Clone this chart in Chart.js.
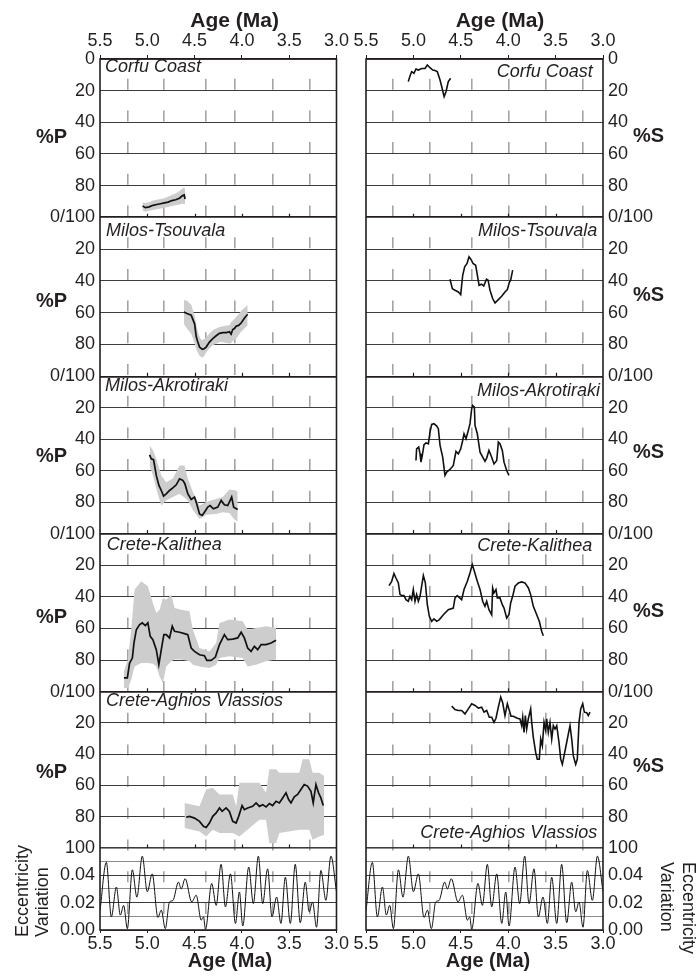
<!DOCTYPE html>
<html>
<head>
<meta charset="utf-8">
<title>Pollen and spore percentages, Pliocene sections</title>
<script src="https://cdn.jsdelivr.net/npm/chart.js@4.4.1/dist/chart.umd.min.js"></script>
<style>
  html, body { margin: 0; padding: 0; background: #fff; overflow: hidden; width: 696px; height: 978px; }
  body { position: relative; font-family: "Liberation Sans", Arial, Helvetica, sans-serif; color: #231f20; }
  canvas { position: absolute; top: 0; }
  .t { position: absolute; white-space: nowrap; line-height: 1; }
</style>
</head>
<body>
<canvas id="colP" width="352" height="978" style="left:0"></canvas>
<canvas id="colS" width="346" height="978" style="left:350px"></canvas>
<script>
// ---------- shared axis values ----------
const ageTicks = [5.5, 5.0, 4.5, 4.0, 3.5, 3.0];
const percentTicks = [0, 20, 40, 60, 80, 100];
const eccTicks = [0, 0.01, 0.02, 0.03, 0.04, 0.05, 0.06];
// eccentricity minima marked by dashed lines
const markerAgesP = [5.21, 4.825, 4.385, 4.07, 3.675, 3.28];
const markerAgesS = [5.22, 4.825, 4.38, 3.99, 3.60, 3.21];

const sites = ['Corfu Coast', 'Milos-Tsouvala', 'Milos-Akrotiraki', 'Crete-Kalithea', 'Crete-Aghios Vlassios'];

// ---------- Corfu Coast ----------
const corfuAgeP = [5.05, 5.02, 4.98, 4.94, 4.90, 4.86, 4.82, 4.78, 4.74, 4.70, 4.66, 4.63, 4.61, 4.60];
const corfuP    = [93, 94, 93.5, 92.5, 92, 91.5, 91, 90.5, 89.5, 89, 88, 86.5, 86, 88.5];
const corfuPLo  = [90.5, 91, 90.5, 89.5, 89, 88.5, 88, 87, 86, 85, 83.5, 82, 81, 82.5];
const corfuPHi  = [96, 96.5, 96, 95.5, 95, 94.5, 94, 93.5, 93, 92.5, 92, 91.5, 91.5, 92.5];
const corfuAgeS = [5.054, 5.036, 5.018, 4.994, 4.973, 4.948, 4.913, 4.878, 4.853, 4.825, 4.796, 4.772, 4.748, 4.719, 4.701, 4.676, 4.656, 4.632, 4.607];
const corfuS    = [14.3, 10.7, 8, 9, 6.3, 7, 6, 6, 3.8, 5.5, 7, 7.3, 8, 13.3, 17.5, 23.8, 20.7, 14.3, 12.2];

// ---------- Milos-Tsouvala ----------
const tsouAgeP = [4.614, 4.58, 4.536, 4.50, 4.483, 4.466, 4.448, 4.430, 4.413, 4.396, 4.378, 4.343, 4.308, 4.272, 4.237, 4.20, 4.164, 4.131, 4.114, 4.097, 4.079, 4.061, 4.035, 4.008, 3.974, 3.939];
const tsouP    = [59.5, 60.5, 61.6, 67, 75, 78.4, 81.6, 82.5, 83, 82.5, 81.6, 78.5, 76.3, 74.5, 73, 72.5, 72.5, 72, 73.5, 70.6, 70, 68.5, 68, 66.5, 63.5, 61];
const tsouPLo  = [52, 52.5, 55, 62, 67, 72, 75, 77, 77, 76.5, 75.3, 73, 71, 70, 69, 68.5, 68, 67.9, 66, 65, 64, 62.7, 61, 59, 57, 55];
const tsouPHi  = [67, 70, 73.2, 79, 82.6, 85, 87, 88, 88, 87, 85, 82.5, 80.5, 79.5, 78.4, 78.5, 79, 79.4, 79, 78, 77, 76.3, 74, 72, 70, 68];
const tsouAgeS = [4.614, 4.589, 4.561, 4.526, 4.501, 4.491, 4.480, 4.459, 4.434, 4.413, 4.388, 4.371, 4.343, 4.325, 4.307, 4.282, 4.258, 4.229, 4.212, 4.192, 4.164, 4.139, 4.104, 4.069, 4.034, 4.009, 3.988, 3.974, 3.953];
const tsouS    = [39, 44.9, 45.9, 47, 48.6, 42.8, 36.5, 31.2, 29.1, 24.9, 27, 29.1, 30.2, 36.5, 42.8, 42.1, 43.2, 39, 39.6, 45.9, 51.1, 53.9, 51.8, 49.7, 47, 45.5, 40.9, 39.6, 33.3];

// ---------- Milos-Akrotiraki ----------
const akroAgeP = [4.976, 4.958, 4.934, 4.923, 4.905, 4.877, 4.852, 4.828, 4.800, 4.765, 4.730, 4.694, 4.659, 4.624, 4.603, 4.572, 4.536, 4.501, 4.483, 4.448, 4.420, 4.396, 4.361, 4.336, 4.301, 4.255, 4.219, 4.185, 4.150, 4.108, 4.087, 4.044];
const akroP    = [49.9, 52.4, 53, 56.7, 63, 69.4, 72.6, 76.2, 74.7, 72.6, 71, 69, 65.2, 66.2, 68.3, 74.7, 78.3, 76.8, 80, 87.5, 88.5, 86.4, 83.2, 82.2, 84.3, 83.2, 78.9, 81.7, 82.2, 76.8, 83.2, 84.7];
const akroBandAge = [4.976, 4.94, 4.905, 4.852, 4.80, 4.73, 4.659, 4.607, 4.572, 4.518, 4.448, 4.378, 4.272, 4.202, 4.132, 4.08, 4.044];
const akroPLo  = [44, 47, 52.4, 63, 67.3, 65, 56.7, 56.7, 65, 73.5, 82.2, 80, 78, 76.8, 72, 72.5, 73.3];
const akroPHi  = [56.7, 63, 71.5, 82.2, 79, 76.8, 74.7, 77, 79, 85, 90.7, 88, 87.5, 86.5, 87, 91, 92.4];
const akroAgeS = [4.973, 4.966, 4.944, 4.930, 4.920, 4.906, 4.888, 4.867, 4.842, 4.825, 4.807, 4.783, 4.754, 4.737, 4.719, 4.691, 4.667, 4.649, 4.614, 4.579, 4.551, 4.526, 4.501, 4.480, 4.466, 4.445, 4.421, 4.403, 4.385, 4.375, 4.357, 4.350, 4.326, 4.297, 4.269, 4.245, 4.227, 4.203, 4.174, 4.150, 4.121, 4.104, 4.087, 4.062, 4.044, 4.016, 3.992];
const akroS    = [53.5, 46.1, 45, 49.3, 54.6, 50.3, 43.5, 42.3, 42.9, 35.5, 30.6, 30.1, 31.6, 33.3, 43.9, 51.4, 63, 60.9, 59.2, 56.7, 47.8, 49.3, 46.1, 40.8, 36.5, 39.7, 34.4, 30.1, 20.6, 18.5, 19.5, 31.2, 36.5, 48.2, 51.4, 54.1, 52, 47.1, 51.4, 55.7, 53.5, 41.8, 42.9, 47.1, 54.6, 59.9, 63];

// ---------- Crete-Kalithea ----------
const kaliAgeP = [5.247, 5.211, 5.187, 5.158, 5.141, 5.116, 5.081, 5.053, 5.021, 4.994, 4.969, 4.941, 4.905, 4.878, 4.852, 4.825, 4.800, 4.765, 4.736, 4.712, 4.659, 4.607, 4.572, 4.536, 4.501, 4.448, 4.396, 4.371, 4.325, 4.280, 4.237, 4.185, 4.150, 4.097, 4.044, 4.008, 3.974, 3.939, 3.903, 3.868, 3.833, 3.797, 3.745, 3.692, 3.639];
const kaliP    = [91.3, 91.3, 81.9, 78.7, 69.2, 60.8, 57.6, 56.5, 58.2, 56.5, 65, 67.1, 73.4, 82.9, 73.4, 63.9, 63.9, 66, 58.6, 61.8, 62.4, 63.3, 63.9, 72.4, 74.5, 76.6, 77.2, 80.2, 80.2, 78.1, 70.2, 63.9, 67.1, 66.7, 66, 62.4, 66, 72.4, 74.5, 71.3, 73.4, 70.2, 70.2, 69.2, 67.5];
const kaliBandAge = [5.247, 5.205, 5.17, 5.134, 5.064, 4.994, 4.941, 4.905, 4.870, 4.835, 4.80, 4.747, 4.712, 4.642, 4.554, 4.518, 4.448, 4.343, 4.272, 4.237, 4.132, 3.991, 3.939, 3.851, 3.745, 3.639];
const kaliPLo  = [87.1, 79.7, 60.8, 35.4, 30.2, 33.3, 43.9, 50.2, 48.1, 40.7, 41.8, 38.6, 47, 48.1, 49.2, 60.8, 72.4, 74.5, 69.2, 56.5, 54.4, 55.5, 60.8, 59.7, 58.6, 59.7];
const kaliPHi  = [97.7, 97.7, 92.4, 84, 81.9, 81.9, 82.3, 84, 90.3, 94.5, 84, 80.8, 79.7, 79.7, 80.8, 82.9, 84, 85, 82.9, 78.7, 77.6, 78.7, 84, 82.9, 80.8, 79.7];
const kaliAgeS = [5.257, 5.229, 5.205, 5.184, 5.159, 5.141, 5.124, 5.099, 5.078, 5.054, 5.036, 5.018, 5.001, 4.983, 4.966, 4.948, 4.930, 4.913, 4.895, 4.874, 4.853, 4.832, 4.807, 4.783, 4.754, 4.726, 4.684, 4.632, 4.579, 4.561, 4.537, 4.491, 4.466, 4.431, 4.403, 4.379, 4.357, 4.326, 4.297, 4.269, 4.245, 4.227, 4.203, 4.174, 4.164, 4.150, 4.129, 4.115, 4.087, 4.062, 4.044, 4.016, 3.992, 3.974, 3.953, 3.928, 3.893, 3.858, 3.823, 3.787, 3.763, 3.735, 3.699, 3.672, 3.647, 3.630];
const kaliS    = [32.9, 30.2, 25.3, 28.1, 31.2, 38.6, 39.2, 39.2, 41.8, 42.8, 39.7, 41.8, 35.4, 42.8, 38.6, 42.8, 39.7, 33.3, 26.6, 31.2, 45, 52.3, 55.5, 54, 55.5, 54.4, 51.3, 48.1, 47.1, 40.7, 39.2, 41.8, 35.4, 30.2, 24.9, 19.6, 23.8, 30.2, 35.4, 42.8, 46, 42.8, 48.1, 51.3, 34.4, 37.5, 35.4, 40.7, 40.7, 45, 47.1, 53.4, 51.3, 43.9, 39.7, 33.3, 31.2, 30.6, 31.2, 34.4, 38.6, 46, 51.3, 55.5, 61.8, 64.6];

// ---------- Crete-Aghios Vlassios ----------
const vlasAgeP = [4.589, 4.554, 4.501, 4.448, 4.406, 4.378, 4.343, 4.308, 4.272, 4.237, 4.209, 4.167, 4.132, 4.097, 4.061, 4.034, 3.998, 3.974, 3.939, 3.886, 3.850, 3.815, 3.780, 3.745, 3.710, 3.675, 3.639, 3.604, 3.569, 3.534, 3.506, 3.481, 3.446, 3.411, 3.376, 3.341, 3.306, 3.270, 3.246, 3.217, 3.190, 3.165, 3.140];
const vlasP    = [80.4, 79.8, 80.9, 83, 86.2, 86.9, 84.1, 79.8, 77.6, 74.4, 76.6, 74.4, 76.6, 83, 84.1, 79.8, 72.9, 75.5, 74.4, 73.4, 71.2, 73.4, 72.3, 73.8, 71.6, 72.9, 70.1, 71.2, 68, 64.7, 69, 71.2, 67.3, 65.8, 62.6, 59.4, 60.4, 63.7, 71.2, 59.4, 64.7, 68, 72.9];
const vlasBandAge = [4.607, 4.448, 4.378, 4.308, 4.237, 4.097, 4.061, 4.026, 3.815, 3.745, 3.710, 3.639, 3.604, 3.393, 3.358, 3.288, 3.253, 3.182, 3.13];
const vlasPLo  = [71.2, 73.4, 62.6, 61.5, 65.8, 65.8, 73.4, 58.3, 58.3, 64.7, 49.7, 49.7, 51.8, 51.8, 43.2, 43.2, 51.8, 51.8, 54];
const vlasPHi  = [87.3, 89.5, 92.7, 88.4, 90.5, 90.5, 91.6, 92.7, 81.9, 81.9, 97, 97, 90.5, 88.4, 88.4, 88.4, 94.8, 92.7, 91.6];
const vlasAgeS = [4.596, 4.561, 4.526, 4.491, 4.456, 4.421, 4.385, 4.350, 4.315, 4.280, 4.255, 4.227, 4.199, 4.174, 4.150, 4.129, 4.104, 4.079, 4.058, 4.034, 4.009, 3.988, 3.970, 3.946, 3.904, 3.876, 3.858, 3.847, 3.833, 3.819, 3.805, 3.788, 3.763, 3.752, 3.735, 3.710, 3.693, 3.672, 3.657, 3.640, 3.622, 3.604, 3.594, 3.577, 3.559, 3.541, 3.524, 3.506, 3.488, 3.464, 3.446, 3.429, 3.411, 3.390, 3.366, 3.348, 3.330, 3.313, 3.288, 3.271, 3.253, 3.235, 3.214, 3.197, 3.172, 3.155, 3.137];
const vlasS    = [9.2, 11.4, 12, 12, 14.2, 11, 7.7, 8.8, 10.5, 9.9, 13.1, 12, 16.3, 16.3, 19.6, 17, 9.9, 3.4, 7.1, 15.3, 7.7, 12, 15.7, 15.7, 17, 17.4, 21.7, 16.3, 26, 15.3, 23.9, 17.4, 11, 19.6, 29.2, 38.9, 43.2, 43.2, 30.3, 34.6, 19.6, 24.9, 17.4, 26, 19.6, 30.3, 21.7, 23.9, 21.7, 32.5, 43.2, 46.5, 41.1, 34.6, 27.1, 21.7, 30.3, 41.1, 46.5, 43.2, 19.6, 11, 7.7, 13.1, 13.5, 15.3, 13.1];

// ---------- orbital eccentricity ----------
const eccAge = [5.500, 5.433, 5.380, 5.327, 5.285, 5.250, 5.211, 5.158, 5.110, 5.053, 5.000, 4.948, 4.888, 4.852, 4.810, 4.765, 4.730, 4.670, 4.642, 4.600, 4.530, 4.483, 4.430, 4.406, 4.385, 4.319, 4.272, 4.220, 4.174, 4.121, 4.068, 4.026, 3.991, 3.928, 3.879, 3.826, 3.780, 3.728, 3.682, 3.633, 3.587, 3.541, 3.488, 3.436, 3.383, 3.330, 3.288, 3.253, 3.211, 3.165, 3.112, 3.059, 3.000];
const eccVal = [0.014, 0.0495, 0.0096, 0.0314, 0.0109, 0.018, 0.001, 0.044, 0.024, 0.054, 0.028, 0.041, 0.0092, 0.0145, 0.001, 0.0205, 0.0215, 0.035, 0.030, 0.0375, 0.0205, 0.0254, 0.0072, 0.0096, 0.0005, 0.034, 0.018, 0.048, 0.0169, 0.041, 0.0048, 0.0278, 0.0029, 0.046, 0.0193, 0.054, 0.0193, 0.0447, 0.0096, 0.0241, 0.0048, 0.0386, 0.0048, 0.048, 0.0053, 0.035, 0.0133, 0.0205, 0.002, 0.0435, 0.0217, 0.054, 0.028];

// ---------- drawing ----------
const FONT = '"Liberation Sans", Arial, Helvetica, sans-serif';
const INK = '#231f20';
const BAND = '#cdcdcd';
Chart.defaults.font.family = FONT;
Chart.defaults.color = INK;

const pts = (xs, ys) => xs.map((x, i) => ({ x, y: ys[i] }));

const pollen = [
  { age: corfuAgeP, val: corfuP, bandAge: corfuAgeP, lo: corfuPLo, hi: corfuPHi },
  { age: tsouAgeP, val: tsouP, bandAge: tsouAgeP, lo: tsouPLo, hi: tsouPHi },
  { age: akroAgeP, val: akroP, bandAge: akroBandAge, lo: akroPLo, hi: akroPHi },
  { age: kaliAgeP, val: kaliP, bandAge: kaliBandAge, lo: kaliPLo, hi: kaliPHi },
  { age: vlasAgeP, val: vlasP, bandAge: vlasBandAge, lo: vlasPLo, hi: vlasPHi }
];
const spores = [
  { age: corfuAgeS, val: corfuS },
  { age: tsouAgeS, val: tsouS },
  { age: akroAgeS, val: akroS },
  { age: kaliAgeS, val: kaliS },
  { age: vlasAgeS, val: vlasS }
];

// relative heights of the stacked panels (five sites + eccentricity)
const panelWeights = [158, 159, 157, 158, 156, 82];

function ageAxis(position, height, tickLen, pad) {
  return {
    type: 'linear', position, min: 3.0, max: 5.5, reverse: true, weight: 1,
    afterBuildTicks: s => { s.ticks = ageTicks.map(v => ({ value: v })); },
    afterFit: s => { s.height = height; },
    ticks: { autoSkip: false, maxRotation: 0, padding: pad, color: INK, font: { size: 18 },
             callback: v => Number(v).toFixed(1) },
    grid: { drawOnChartArea: false, drawTicks: true, tickLength: tickLen, color: INK, lineWidth: 1 },
    border: { display: false }
  };
}

function markerAxis(ages) {
  return {
    type: 'linear', position: 'bottom', min: 3.0, max: 5.5, reverse: true, weight: 0,
    afterBuildTicks: s => { s.ticks = ages.map(v => ({ value: v })); },
    afterFit: s => { s.height = 0; },
    ticks: { display: false },
    grid: { drawTicks: false, color: '#a3a3a3', lineWidth: 1.6 },
    border: { display: false, dash: [11, 20.7], dashOffset: 12 }
  };
}

function percentAxis(k, side, axisWidth) {
  const last = k === 4;
  return {
    axis: 'y', type: 'linear', position: side, stack: 'panels', stackWeight: panelWeights[k],
    weight: side === 'left' ? 10 - k : k + 1,
    min: 0, max: 100, reverse: true,
    afterBuildTicks: s => { s.ticks = percentTicks.map(v => ({ value: v })); },
    afterFit: s => { s.width = axisWidth; },
    ticks: {
      autoSkip: false, padding: 5, color: INK, font: { size: 18 },
      callback: v => v === 0 ? (k === 0 ? '0' : '0/100') : (v === 100 ? (last ? '100' : '') : String(v))
    },
    grid: {
      drawTicks: false,
      color: c => (c.tick.value === 0 || c.tick.value === 100) ? INK : '#3c3c3c',
      lineWidth: c => (c.tick.value === 0 || c.tick.value === 100) ? 1.6 : 1
    },
    border: { display: false }
  };
}

function eccAxis(side, axisWidth) {
  return {
    axis: 'y', type: 'linear', position: side, stack: 'panels', stackWeight: panelWeights[5],
    weight: side === 'left' ? 4 : 6,
    min: 0, max: 0.06,
    afterBuildTicks: s => { s.ticks = eccTicks.map(v => ({ value: v })); },
    afterFit: s => { s.width = axisWidth; },
    ticks: {
      autoSkip: false, padding: 5, color: INK, font: { size: 18 },
      callback: (v, i) => (i % 2 === 0 && i < 6) ? Number(v).toFixed(2) : ''
    },
    grid: {
      drawTicks: false,
      color: c => c.index % 2 ? '#8c8c8c' : '#3c3c3c',
      lineWidth: 1
    },
    border: { display: false }
  };
}

// outer frame plus short age ticks on the floor of every site panel
const framePlugin = {
  id: 'frame',
  afterDatasetsDraw(chart) {
    const { ctx, chartArea: a, scales } = chart;
    ctx.save();
    ctx.strokeStyle = INK;
    ctx.lineWidth = 1.6;
    ctx.strokeRect(a.left, a.top, a.right - a.left, a.bottom - a.top);
    ctx.lineWidth = 1.2;
    ctx.beginPath();
    for (let k = 1; k <= 5; k++) {
      const yb = scales['y' + k].bottom;
      ageTicks.slice(1, -1).forEach(v => {
        const px = Math.round(scales.x.getPixelForValue(v)) + 0.5;
        ctx.moveTo(px, yb);
        ctx.lineTo(px, yb - 3.5);
      });
    }
    ctx.stroke();
    ctx.restore();
  }
};

function buildColumn(canvasId, side, axisWidth, padding, markers, withBands) {
  const scales = {
    x: ageAxis('bottom', 48, 3, 0),
    xt: ageAxis('top', 59, 4, 3),
    xm: markerAxis(markers)
  };
  const datasets = [];
  for (let k = 0; k < 5; k++) {
    const id = 'y' + (k + 1);
    scales[id] = percentAxis(k, side, axisWidth);
    if (withBands) {
      const p = pollen[k];
      // grey range band (lower and upper bound, filled between)
      datasets.push({ data: pts(p.bandAge, p.lo), yAxisID: id, xAxisID: 'x', borderWidth: 0,
                      pointRadius: 0, fill: false, backgroundColor: BAND, order: 2 });
      datasets.push({ data: pts(p.bandAge, p.hi), yAxisID: id, xAxisID: 'x', borderWidth: 0,
                      pointRadius: 0, fill: '-1', backgroundColor: BAND, order: 2 });
      datasets.push({ data: pts(p.age, p.val), yAxisID: id, xAxisID: 'x', borderColor: '#111',
                      borderWidth: 1.7, pointRadius: 0, fill: false, order: 0 });
    } else {
      const s = spores[k];
      datasets.push({ data: pts(s.age, s.val), yAxisID: id, xAxisID: 'x', borderColor: '#111',
                      borderWidth: 1.6, pointRadius: 0, fill: false, order: 0 });
    }
  }
  scales.ye = eccAxis(side, axisWidth);
  datasets.push({ data: pts(eccAge, eccVal), yAxisID: 'ye', xAxisID: 'x', borderColor: '#111',
                  borderWidth: 1, pointRadius: 0, fill: false, cubicInterpolationMode: 'monotone', order: 0 });

  return new Chart(document.getElementById(canvasId), {
    type: 'line',
    data: { datasets },
    options: {
      responsive: false, animation: false, events: [],
      layout: { padding },
      plugins: { legend: { display: false }, tooltip: { enabled: false },
                 filler: { drawTime: 'beforeDatasetsDraw' } },
      scales
    },
    plugins: [framePlugin]
  });
}

buildColumn('colP', 'left', 100, { left: 0, right: 15, top: 0, bottom: 0 }, markerAgesP, true);
buildColumn('colS', 'right', 93, { left: 16, right: 0, top: 0, bottom: 0 }, markerAgesS, false);

// ---------- text ----------
function label(text, x, baseline, size, opts = {}) {
  const d = document.createElement('div');
  d.className = 't';
  d.textContent = text;
  d.style.fontSize = size + 'px';
  d.style.lineHeight = size + 'px';
  if (opts.bold) d.style.fontWeight = 'bold';
  if (opts.italic) d.style.fontStyle = 'italic';
  d.style.top = (baseline - 0.8465 * size) + 'px';
  d.style.left = x + 'px';
  if (opts.align === 'center') d.style.transform = 'translateX(-50%)';
  if (opts.align === 'right') d.style.transform = 'translateX(-100%)';
  document.body.appendChild(d);
}

label('Age (Ma)', 234.7, 26.7, 21, { bold: true, align: 'center' });
label('Age (Ma)', 500, 26.7, 21, { bold: true, align: 'center' });
label('Age (Ma)', 230, 966.7, 20, { bold: true, align: 'center' });
label('Age (Ma)', 488, 966.7, 20, { bold: true, align: 'center' });

const pTitleBase = [143.3, 306.7, 461.7, 623, 778];
const sTitleBase = [141.7, 300.7, 458.3, 616.7, 771.7];
pTitleBase.forEach(b => label('%P', 36, b, 20, { bold: true }));
sTitleBase.forEach(b => label('%S', 633, b, 20, { bold: true }));

const leftNameBase = [72.7, 236.7, 391.7, 550, 706.7];
const leftNameX = [105, 106, 105, 106.7, 106];
sites.forEach((n, i) => label(n, leftNameX[i], leftNameBase[i], 18, { italic: true }));
const rightNameBase = [77.3, 236, 396.7, 551.7, 838.3];
const rightNameX = [592.7, 597.3, 600, 592.3, 597.3];
sites.forEach((n, i) => label(n, rightNameX[i], rightNameBase[i], 18, { italic: true, align: 'right' }));

// rotated eccentricity titles
function rotatedTitle(lines, x, y, deg) {
  const d = document.createElement('div');
  d.className = 't';
  d.style.fontSize = '18px';
  d.style.lineHeight = (deg < 0 ? 20 : 22) + 'px';
  d.style.left = x + 'px';
  d.style.top = y + 'px';
  d.style.transformOrigin = '0 0';
  d.style.transform = 'rotate(' + deg + 'deg)';
  d.innerHTML = lines.map(s => '<div>' + s + '</div>').join('');
  document.body.appendChild(d);
}
rotatedTitle(['Eccentricity', 'Variation'], 12, 937, -90);
rotatedTitle(['Eccentricity', 'Variation'], 700, 862, 90);
</script>
</body>
</html>
